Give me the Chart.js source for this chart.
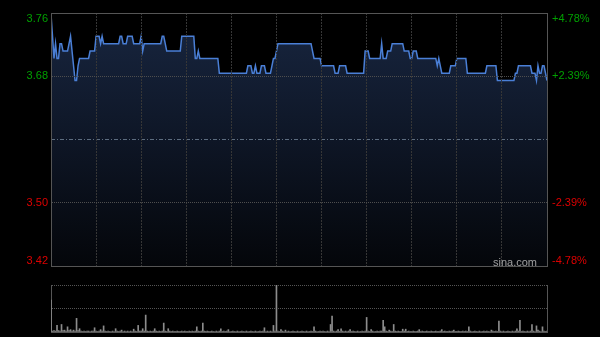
<!DOCTYPE html>
<html><head><meta charset="utf-8">
<script src="https://cdn.jsdelivr.net/npm/chart.js@4"></script>
<style>
html,body{margin:0;padding:0;background:#000;width:600px;height:337px;overflow:hidden}
#main{position:absolute;left:0;top:0}
#vol{position:absolute;left:0;top:280px}
#wm{position:absolute;right:63px;top:256px;font:11px "Liberation Sans",Arial,sans-serif;color:#a0a0a0;z-index:2}
</style></head><body>
<canvas id="main" width="600" height="280"></canvas>
<canvas id="vol" width="600" height="57"></canvas>
<div id="wm">sina.com</div>
<script>
const prevClose = 3.59;
const pctRange = 4.78;
const priceTickLabels = ['3.76','3.68','3.50','3.42'];
const pctTickLabels = ['+4.78%','+2.39%','-2.39%','-4.78%'];
const priceValues = [
3.76,3.73,3.70,3.72,3.70,3.70,3.72,3.72,3.71,3.71,
3.71,3.71,3.72,3.73,3.71,3.69,3.67,3.67,3.69,3.70,
3.70,3.70,3.70,3.70,3.70,3.70,3.71,3.71,3.71,3.71,
3.73,3.73,3.73,3.72,3.73,3.72,3.72,3.72,3.72,3.72,
3.72,3.72,3.72,3.72,3.72,3.72,3.73,3.73,3.72,3.72,
3.72,3.73,3.73,3.73,3.73,3.72,3.72,3.72,3.72,3.72,
3.73,3.71,3.72,3.72,3.72,3.72,3.72,3.72,3.72,3.72,
3.72,3.72,3.72,3.72,3.73,3.73,3.72,3.71,3.71,3.71,
3.71,3.71,3.71,3.71,3.71,3.71,3.71,3.73,3.73,3.73,
3.73,3.73,3.73,3.73,3.73,3.73,3.70,3.70,3.71,3.70,
3.70,3.70,3.70,3.70,3.70,3.70,3.70,3.70,3.70,3.70,
3.70,3.70,3.68,3.68,3.68,3.68,3.68,3.68,3.68,3.68,
3.68,3.68,3.68,3.68,3.68,3.68,3.68,3.68,3.68,3.68,
3.68,3.69,3.69,3.69,3.68,3.68,3.69,3.68,3.68,3.68,
3.69,3.69,3.69,3.68,3.68,3.68,3.68,3.69,3.70,3.70,
3.71,3.72,3.72,3.72,3.72,3.72,3.72,3.72,3.72,3.72,
3.72,3.72,3.72,3.72,3.72,3.72,3.72,3.72,3.72,3.72,
3.72,3.72,3.72,3.72,3.71,3.70,3.70,3.70,3.70,3.70,
3.69,3.69,3.69,3.69,3.69,3.69,3.69,3.69,3.69,3.68,
3.68,3.68,3.69,3.69,3.69,3.69,3.69,3.68,3.68,3.68,
3.68,3.68,3.68,3.68,3.68,3.68,3.68,3.68,3.68,3.71,
3.71,3.71,3.70,3.70,3.70,3.70,3.70,3.70,3.70,3.70,
3.72,3.70,3.70,3.70,3.71,3.71,3.71,3.72,3.72,3.72,
3.72,3.72,3.72,3.72,3.72,3.71,3.71,3.71,3.71,3.70,
3.70,3.71,3.71,3.71,3.70,3.70,3.70,3.70,3.70,3.70,
3.70,3.70,3.70,3.70,3.70,3.70,3.70,3.69,3.70,3.69,
3.68,3.68,3.68,3.68,3.68,3.68,3.69,3.69,3.69,3.69,
3.70,3.70,3.70,3.70,3.70,3.70,3.70,3.68,3.68,3.68,
3.68,3.68,3.68,3.68,3.68,3.68,3.68,3.68,3.68,3.68,
3.69,3.69,3.69,3.69,3.69,3.69,3.69,3.67,3.67,3.67,
3.67,3.67,3.67,3.67,3.67,3.67,3.67,3.67,3.67,3.68,
3.68,3.69,3.69,3.69,3.69,3.69,3.69,3.69,3.69,3.69,
3.68,3.68,3.68,3.67,3.69,3.68,3.68,3.69,3.69,3.68,
3.67
];
const volumeValues = [
68,2,3,2,14,3,2,16,3,4,
2,11,3,5,2,4,2,29,3,7,
2,1,2,1,2,2,1,2,2,9,
2,1,2,5,2,13,2,1,2,1,
1,2,1,7,2,1,2,4,1,2,
1,2,1,2,1,6,2,1,14,2,
2,7,2,36,2,1,2,1,2,7,
2,1,2,1,2,19,2,1,7,2,
1,2,1,1,2,1,1,2,1,2,
1,1,2,1,2,1,2,11,2,1,
2,19,2,1,2,1,1,2,1,1,
2,1,2,7,1,2,1,2,5,1,
1,2,1,1,2,1,1,2,1,1,
2,1,1,2,1,1,2,1,1,2,
1,2,9,1,2,1,2,1,14,2,
100,2,1,5,2,1,4,1,2,1,
1,2,1,1,2,1,1,2,1,1,
2,1,1,2,1,11,2,1,1,2,
1,2,1,1,2,1,16,34,2,1,
2,5,1,7,2,1,2,1,2,5,
1,2,1,1,2,1,1,2,1,2,
31,2,1,5,2,1,1,2,1,2,
2,25,11,2,1,4,2,1,16,2,
1,2,1,1,6,2,6,1,2,1,
1,2,1,1,2,5,1,2,1,1,
2,1,1,2,1,1,2,1,1,2,
5,1,2,1,1,2,1,2,4,1,
1,2,1,1,2,1,2,1,11,2,
1,1,2,1,1,2,1,1,2,1,
2,1,1,4,2,1,2,1,23,2,
1,2,1,1,2,1,1,2,1,2,
7,2,25,1,2,1,1,2,1,2,
16,2,1,13,4,2,1,11,2,1,
2
];

const yMax = prevClose * (1 + pctRange / 100);
const yMin = prevClose * (1 - pctRange / 100);
const FONT = {family: '"Liberation Sans", Arial, sans-serif', size: 11, lineHeight: 1};
const GREEN = '#00a000', RED = '#dd0000';
const BORDER = '#555';

function fivePoints(min, max) {
  const s = (max - min) / 4;
  return [0, 1, 2, 3, 4].map(i => ({value: min + s * i}));
}
function tickLabel(labels, i) {
  if (i === 2) return '';
  const l = labels[i >= 3 ? 4 - i : 3 - i];
  if (i === 4) return ['', l];
  if (i === 0) return [l, ''];
  return l;
}
const tickColor = c => (c.index >= 2 ? GREEN : RED);
const fitY = w => s => { s.width = w; s.paddingTop = 0; s.paddingBottom = 0; };

new Chart(document.getElementById('main'), {
  type: 'line',
  data: {
    datasets: [
      {
        data: priceValues.map((v, i) => ({x: i, y: v})),
        borderColor: '#4a7fd6',
        borderWidth: 1.5,
        pointRadius: 0,
        tension: 0,
        fill: 'start',
        backgroundColor: (ctx) => {
          const a = ctx.chart.chartArea;
          if (!a) return 'rgba(20,32,55,1)';
          const g = ctx.chart.ctx.createLinearGradient(0, a.top, 0, a.bottom);
          g.addColorStop(0, 'rgb(24,38,64)');
          g.addColorStop(0.5, 'rgb(14,22,38)');
          g.addColorStop(1, 'rgb(4,6,10)');
          return g;
        },
        order: 1
      },
      {
        data: [{x: 0, y: prevClose}, {x: 330, y: prevClose}],
        borderColor: '#5d6d80',
        borderWidth: 1,
        borderDash: [4, 2, 1, 2],
        pointRadius: 0,
        fill: false,
        order: 0
      }
    ]
  },
  options: {
    responsive: false,
    animation: false,
    events: [],
    layout: {padding: {top: 13, bottom: 14, left: 0, right: 0}},
    plugins: {legend: {display: false}, tooltip: {enabled: false}},
    scales: {
      x: {
        type: 'linear', min: 0, max: 330, position: 'bottom',
        ticks: {display: false, stepSize: 30},
        grid: {z: 1, drawTicks: false, color: c => (c.tick && (c.tick.value === 0 || c.tick.value === 330)) ? 'transparent' : '#363636'},
        border: {display: true, color: BORDER, dash: [2, 1], z: 2},
        afterFit: s => { s.height = 0; }
      },
      x2: {
        type: 'linear', min: 0, max: 330, position: 'top',
        ticks: {display: false},
        grid: {display: false, drawTicks: false},
        border: {display: true, color: BORDER, z: 2},
        afterFit: s => { s.height = 0; }
      },
      y: {
        type: 'linear', min: yMin, max: yMax, position: 'left',
        afterBuildTicks: s => { s.ticks = fivePoints(yMin, yMax); },
        ticks: {padding: 3, font: FONT, color: tickColor, autoSkip: false, callback: (v, i) => tickLabel(priceTickLabels, i)},
        grid: {z: 1, drawTicks: false, color: c => (c.index === 1 || c.index === 3) ? '#4e4e4e' : 'transparent'},
        border: {display: true, color: BORDER, dash: [1, 1], z: 2},
        afterFit: fitY(51)
      },
      y1: {
        type: 'linear', min: -pctRange, max: pctRange, position: 'right',
        afterBuildTicks: s => { s.ticks = fivePoints(-pctRange, pctRange); },
        ticks: {padding: 5, font: FONT, color: tickColor, autoSkip: false, callback: (v, i) => tickLabel(pctTickLabels, i)},
        grid: {drawOnChartArea: false, drawTicks: false},
        border: {display: true, color: BORDER, z: 2},
        afterFit: fitY(53)
      }
    }
  }
});

new Chart(document.getElementById('vol'), {
  type: 'bar',
  data: {
    datasets: [{
      data: volumeValues.map((v, i) => ({x: i, y: v})),
      backgroundColor: '#8c8c8c',
      barThickness: 1,
      borderWidth: 0
    }]
  },
  options: {
    responsive: false,
    animation: false,
    events: [],
    layout: {padding: {top: 5, bottom: 5, left: 0, right: 0}},
    plugins: {legend: {display: false}, tooltip: {enabled: false}},
    scales: {
      x: {
        type: 'linear', min: 0, max: 330, offset: false,
        ticks: {display: false},
        grid: {display: false, drawTicks: false},
        border: {display: true, color: BORDER},
        afterFit: s => { s.height = 0; }
      },
      y: {
        min: 0, max: 100, position: 'left',
        ticks: {display: false, stepSize: 50},
        grid: {drawTicks: false, color: c => (c.tick && c.tick.value > 0) ? '#555' : 'transparent'},
        border: {display: true, color: BORDER, dash: [1, 1]},
        afterFit: fitY(51)
      },
      y2: {
        min: 0, max: 100, position: 'right',
        ticks: {display: false},
        grid: {display: false, drawTicks: false},
        border: {display: true, color: BORDER},
        afterFit: fitY(53)
      }
    }
  }
});
</script>
</body></html>
